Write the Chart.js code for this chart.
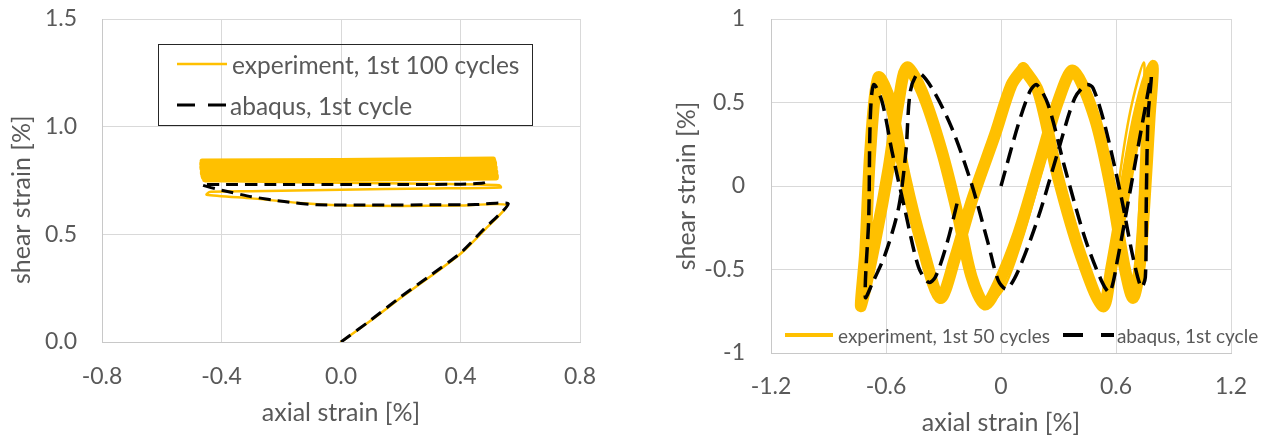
<!DOCTYPE html>
<html>
<head>
<meta charset="utf-8">
<script src="https://cdn.jsdelivr.net/npm/chart.js@4.4.1/dist/chart.umd.min.js"></script>
<style>
  body { margin: 0; background: #fff; width: 1271px; height: 439px; position: relative; overflow: hidden; font-family: Lato, sans-serif; }
  .wrap { position: absolute; top: 0; }
  .legend { position: absolute; color: #595959; }
  .legend .item { display: flex; align-items: center; white-space: nowrap; }
  .legend svg { display: block; }
  #legendLeft { left: 158px; top: 44px; width: 373px; height: 80px; border: 1px solid #262626; font-size: 24.5px; }
  #legendLeft .item { position: absolute; left: 18px; height: 30px; }
  #legendRight { left: 785px; top: 323px; height: 24px; display: flex; font-size: 19px; }
  #legendRight .item { margin-right: 13px; }
</style>
</head>
<body>
<div class="wrap" style="left:0"><canvas id="left" width="630" height="439"></canvas></div>
<div class="wrap" style="left:640px"><canvas id="right" width="631" height="439"></canvas></div>
<div class="legend" id="legendLeft"></div>
<div class="legend" id="legendRight"></div>
<script>
// ---- left chart: first cycles, axial vs shear strain ----
const leftXTicks = [-0.8, -0.4, 0, 0.4, 0.8];
const leftYTicks = [0, 0.5, 1.0, 1.5];

// experiment, first loading and the early cycles below the band
const leftExpX = [0, 0.1, 0.2, 0.3, 0.4, 0.48, 0.555, 0.4, 0.2, 0.0, -0.14, -0.3, -0.45, -0.44, -0.3, 0.0, 0.3, 0.535, 0.53, 0.3, 0.0, -0.3, -0.46];
const leftExpY = [0, 0.1, 0.205, 0.305, 0.41, 0.52, 0.635, 0.634, 0.632, 0.635, 0.646, 0.667, 0.684, 0.697, 0.700, 0.707, 0.713, 0.718, 0.728, 0.735, 0.740, 0.745, 0.750];
// experiment, the remaining cycles packed into one band
const leftBandX = [-0.455, 0.0, 0.52, 0.52, 0.0, -0.46, -0.462, 0.0, 0.518, 0.518, 0.0, -0.463, -0.464, 0.0, 0.516, 0.516, 0.0, -0.465, -0.466, 0.0, 0.514, 0.514, 0.0, -0.466, -0.466, 0.0, 0.512, 0.51, 0.0, -0.465];
const leftBandY = [0.752, 0.756, 0.762, 0.772, 0.766, 0.762, 0.772, 0.776, 0.782, 0.792, 0.786, 0.782, 0.792, 0.796, 0.802, 0.812, 0.806, 0.802, 0.812, 0.816, 0.822, 0.832, 0.826, 0.822, 0.832, 0.836, 0.842, 0.850, 0.843, 0.840];
// abaqus, first cycle
const leftAbqX = [0, 0.1, 0.2, 0.3, 0.4, 0.476, 0.56, 0.45, 0.3, 0.1, -0.08, -0.19, -0.3, -0.4, -0.466, -0.4, -0.2, 0.0, 0.2, 0.4, 0.476, 0.493];
const leftAbqY = [0, 0.102, 0.21, 0.31, 0.413, 0.521, 0.642, 0.638, 0.637, 0.636, 0.637, 0.652, 0.675, 0.705, 0.730, 0.731, 0.731, 0.731, 0.731, 0.733, 0.738, 0.745];

// ---- right chart: 50 cycles ----
const rightXTicks = [-1.2, -0.6, 0, 0.6, 1.2];
const rightYTicks = [-1, -0.5, 0, 0.5, 1];

// experiment: main band of cycles and a few stray cycles around it
const rightExpX = [0.116, 0.194, 0.298, 0.42, 0.532, 0.576, 0.645, 0.715, 0.79, 0.775, 0.749, 0.723, 0.689, 0.645, 0.576, 0.489, 0.376, 0.298, 0.194, 0.09, -0.014, -0.083, -0.153, -0.222, -0.309, -0.413, -0.491, -0.534, -0.586, -0.656, -0.73, -0.708, -0.682, -0.64, -0.578, -0.5, -0.413, -0.317, -0.239, -0.153, -0.031, 0.055, 0.116];
const rightExpY = [0.706, 0.567, 0.05, -0.428, -0.72, -0.487, -0.03, 0.408, 0.72, 0.408, -0.09, -0.487, -0.67, -0.487, -0.03, 0.408, 0.69, 0.507, 0.109, -0.288, -0.587, -0.71, -0.547, -0.189, 0.209, 0.567, 0.71, 0.507, 0.109, -0.328, -0.72, -0.388, 0.209, 0.65, 0.507, 0.05, -0.348, -0.67, -0.428, -0.09, 0.308, 0.607, 0.706];
const rightStrayX = [0.125, 0.205, 0.31, 0.43, 0.54, 0.57, 0.615, 0.675, 0.745, 0.74, 0.725, 0.705, 0.675, 0.63, 0.56, 0.47, 0.36, 0.31, 0.215, 0.115, 0.02, -0.065, -0.14, -0.21, -0.30, -0.40, -0.48, -0.525, -0.575, -0.645, -0.72, -0.70, -0.675, -0.63, -0.565, -0.49, -0.40, -0.305, -0.23, -0.14, -0.02, 0.065, 0.125];
const rightStrayY = [0.72, 0.56, 0.04, -0.44, -0.70, -0.45, 0.02, 0.45, 0.74, 0.45, -0.05, -0.47, -0.66, -0.47, -0.01, 0.42, 0.70, 0.50, 0.10, -0.30, -0.60, -0.70, -0.54, -0.17, 0.23, 0.58, 0.72, 0.51, 0.11, -0.33, -0.71, -0.37, 0.23, 0.66, 0.50, 0.04, -0.36, -0.66, -0.41, -0.07, 0.32, 0.62, 0.72];

const rightAbqX = [0, 0.09, 0.151, 0.186, 0.246, 0.333, 0.437, 0.524, 0.567, 0.61, 0.68, 0.749, 0.784, 0.767, 0.758, 0.753, 0.732, 0.689, 0.628, 0.541, 0.48, 0.446, 0.385, 0.298, 0.194, 0.09, 0.029, -0.014, -0.066, -0.153, -0.257, -0.361, -0.43, -0.473, -0.496, -0.534, -0.604, -0.673, -0.708, -0.69, -0.682, -0.664, -0.621, -0.569, -0.5, -0.43, -0.378, -0.343, -0.283, -0.222];
const rightAbqY = [0, 0.368, 0.567, 0.607, 0.487, 0.109, -0.308, -0.567, -0.636, -0.428, 0.01, 0.447, 0.656, 0.408, -0.09, -0.547, -0.607, -0.428, -0.07, 0.368, 0.587, 0.607, 0.527, 0.209, -0.189, -0.507, -0.617, -0.567, -0.348, 0.01, 0.348, 0.587, 0.676, 0.567, 0.209, -0.129, -0.408, -0.587, -0.666, -0.189, 0.408, 0.607, 0.507, 0.209, -0.149, -0.487, -0.577, -0.547, -0.348, -0.07];

const ORANGE = '#FFC000';
const GREY = '#595959';
const GRID = '#d9d9d9';

const pts = (xs, ys) => xs.map((x, i) => ({ x: x, y: ys[i] }));

// one linear axis with fixed ticks taken from an array.
// the label gap is done with an invisible tick mark so it does not eat into the plot area
function axis(min, max, ticks, fmt, title, o) {
    return {
        type: 'linear',
        position: o.position,
        min: min,
        max: max,
        afterBuildTicks: (s) => { s.ticks = ticks.map(v => ({ value: v })); },
        afterFit: (s) => { if (o.position === 'left') s.width = o.size; else s.height = o.size; },
        ticks: { callback: fmt, color: GREY, font: { family: 'Lato', size: 23 }, padding: 0, maxRotation: 0, autoSkip: false },
        grid: { color: GRID, drawTicks: true, tickLength: o.tickPad, tickColor: 'transparent' },
        border: { color: '#c8c8c8' },
        title: { display: true, text: title, color: GREY, font: { family: 'Lato', size: 25 }, padding: o.titlePad },
    };
}

function makeChart(id, datasets, scales, padding) {
    return new Chart(document.getElementById(id), {
        type: 'scatter',
        data: { datasets: datasets },
        options: {
            responsive: false,
            animation: false,
            layout: { padding: padding },
            elements: { point: { radius: 0 }, line: { borderJoinStyle: 'round', borderCapStyle: 'round' } },
            plugins: { legend: { display: false }, tooltip: { enabled: false } },
            scales: scales,
        },
    });
}

const leftChart = makeChart('left', [
    { label: 'abaqus, 1st cycle', data: pts(leftAbqX, leftAbqY), showLine: true, borderColor: '#000', borderWidth: 3, borderDash: [12, 7], borderCapStyle: 'butt', tension: 0.2, order: 0, legendWidth: 3, legendDash: '18 13' },
    { label: 'experiment, 1st 100 cycles', data: pts(leftExpX, leftExpY), showLine: true, borderColor: ORANGE, borderWidth: 2.5, tension: 0.2, order: 1, legendWidth: 2.5 },
    { data: pts(leftBandX, leftBandY), showLine: true, borderColor: ORANGE, borderWidth: 5, tension: 0, order: 2 },
], {
    x: axis(-0.8, 0.8, leftXTicks, v => v.toFixed(1), 'axial strain [%]', { position: 'bottom', size: 97, tickPad: 21, titlePad: { top: 0, bottom: 11 } }),
    y: axis(0, 1.5, leftYTicks, v => v.toFixed(1), 'shear strain [%]      ', { position: 'left', size: 102, tickPad: 25, titlePad: { top: 7, bottom: 0 } }),
}, { top: 19, right: 50, bottom: 0, left: 0 });

const rightChart = makeChart('right', [
    { label: 'abaqus, 1st cycle', data: pts(rightAbqX, rightAbqY), showLine: true, borderColor: '#000', borderWidth: 3.5, borderDash: [16, 8], borderCapStyle: 'butt', tension: 0.3, order: 0, legendWidth: 4, legendDash: '20 18' },
    { label: 'experiment, 1st 50 cycles', data: pts(rightExpX, rightExpY), showLine: true, borderColor: ORANGE, borderWidth: 12, tension: 0.3, order: 1, legendWidth: 4 },
    { data: pts(rightStrayX, rightStrayY), showLine: true, borderColor: ORANGE, borderWidth: 2.5, tension: 0.3, order: 2 },
], {
    x: axis(-1.2, 1.2, rightXTicks, v => String(v), 'axial strain [%]', { position: 'bottom', size: 86, tickPad: 20, titlePad: { top: 0, bottom: 1 } }),
    y: axis(-1, 1, rightYTicks, v => String(v), 'shear strain [%]', { position: 'left', size: 131, tickPad: 26, titlePad: { top: 32, bottom: 0 } }),
}, { top: 19, right: 40, bottom: 0, left: 0 });

// html legend built from the chart's labelled datasets (experiment first, as in the figure)
function buildLegend(chart, el, sampleLen, rowTops) {
    const items = chart.data.datasets.filter(d => d.label).sort((a, b) => b.order - a.order);
    items.forEach((ds, i) => {
        const item = document.createElement('div');
        item.className = 'item';
        if (rowTops) item.style.top = rowTops[i] + 'px';
        const dash = ds.legendDash ? ` stroke-dasharray="${ds.legendDash}"` : '';
        item.innerHTML = `<svg width="${sampleLen[i]}" height="10"><line x1="0" y1="5" x2="${sampleLen[i]}" y2="5" stroke="${ds.borderColor}" stroke-width="${ds.legendWidth}"${dash}/></svg>` +
            `<span style="margin-left:${i === 0 ? 5 : 3}px">${ds.label}</span>`;
        el.appendChild(item);
    });
}
buildLegend(leftChart, document.getElementById('legendLeft'), [50, 50], [4, 45]);
buildLegend(rightChart, document.getElementById('legendRight'), [48, 51], null);
</script>
</body>
</html>
